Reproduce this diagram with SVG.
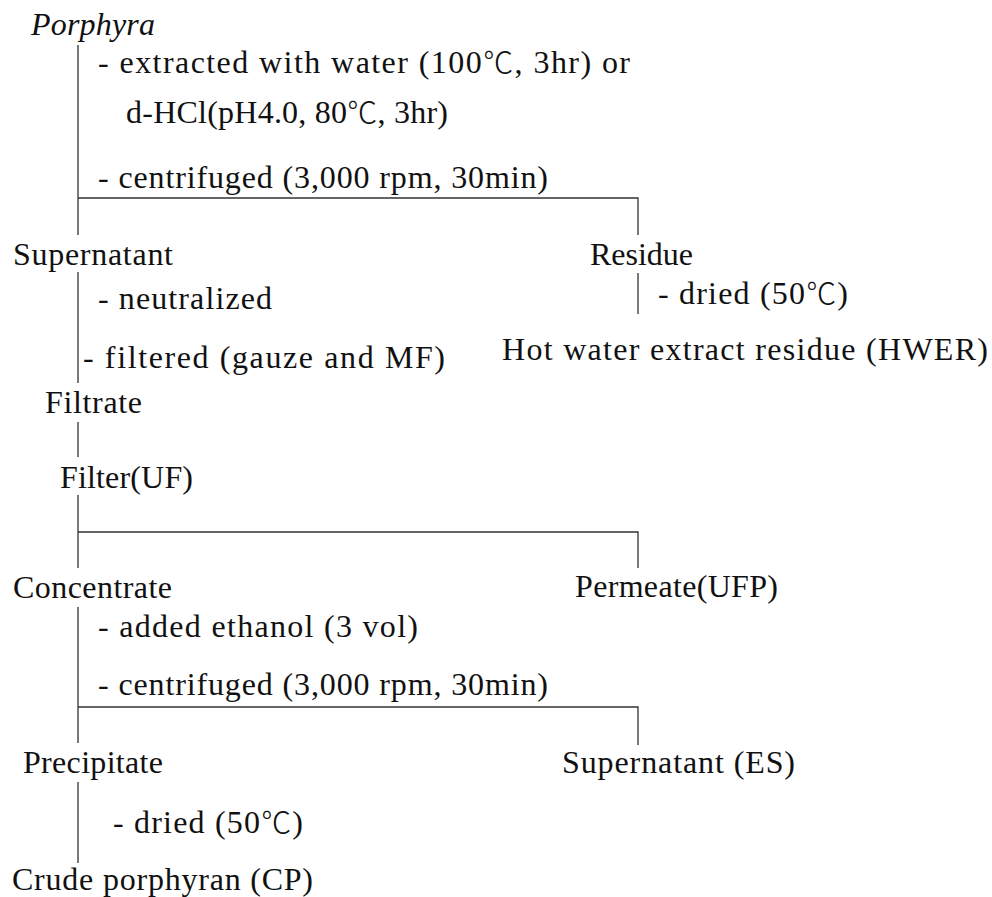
<svg xmlns="http://www.w3.org/2000/svg" width="992" height="897" viewBox="0 0 992 897">
  <style>
    .t { font-family: "Liberation Serif", "Noto Sans CJK KR", serif; font-size: 32px; fill: #111; }
    .it { font-style: italic; }
    .c { font-family: "Noto Sans CJK KR", "DejaVu Sans", sans-serif; font-size: 30px; font-weight: 300; }
    .ln { stroke: #333; stroke-width: 1.3; fill: none; }
  </style>
  <rect width="992" height="897" fill="#fff"/>

  <!-- process flow connectors -->
  <g id="connectors">
    <path class="ln" d="M78 45V235 M78 198H638V235"/>
    <path class="ln" d="M638 273V314"/>
    <path class="ln" d="M78 272V383"/>
    <path class="ln" d="M78 422V457"/>
    <path class="ln" d="M78 495V568 M78 532H638V568"/>
    <path class="ln" d="M78 607V743 M78 707H638V745"/>
    <path class="ln" d="M78 782V863"/>
  </g>

  <!-- materials / fractions -->
  <g id="porphyra"><text class="t it" x="31" y="35" textLength="124" lengthAdjust="spacing">Porphyra</text></g>
  <g id="supernatant"><text class="t" x="13" y="265" textLength="160" lengthAdjust="spacing">Supernatant</text></g>
  <g id="residue"><text class="t" x="590" y="265" textLength="103" lengthAdjust="spacing">Residue</text></g>
  <g id="hwer"><text class="t" x="502" y="360" textLength="486" lengthAdjust="spacing">Hot water extract residue (HWER)</text></g>
  <g id="filtrate"><text class="t" x="45" y="413" textLength="97" lengthAdjust="spacing">Filtrate</text></g>
  <g id="filter-uf"><text class="t" x="60" y="488" textLength="133" lengthAdjust="spacing">Filter(UF)</text></g>
  <g id="concentrate"><text class="t" x="13" y="598" textLength="159" lengthAdjust="spacing">Concentrate</text></g>
  <g id="permeate"><text class="t" x="575" y="597" textLength="203" lengthAdjust="spacing">Permeate(UFP)</text></g>
  <g id="precipitate"><text class="t" x="23" y="773" textLength="140" lengthAdjust="spacing">Precipitate</text></g>
  <g id="supernatant-es"><text class="t" x="562" y="773" textLength="233" lengthAdjust="spacing">Supernatant (ES)</text></g>
  <g id="crude-porphyran"><text class="t" x="12" y="890" textLength="301" lengthAdjust="spacing">Crude porphyran (CP)</text></g>

  <!-- process steps -->
  <g id="step-extract">
    <text class="t" x="98" y="73" textLength="532" lengthAdjust="spacing">- extracted with water (100<tspan class="c">℃</tspan>, 3hr) or</text>
    <text class="t" x="126" y="123" textLength="322" lengthAdjust="spacing">d-HCl(pH4.0, 80<tspan class="c">℃</tspan>, 3hr)</text>
  </g>
  <g id="step-centrifuge-1"><text class="t" x="98" y="188" textLength="450" lengthAdjust="spacing">- centrifuged (3,000 rpm, 30min)</text></g>
  <g id="step-neutralize"><text class="t" x="98" y="309" textLength="174" lengthAdjust="spacing">- neutralized</text></g>
  <g id="step-dry-residue"><text class="t" x="658" y="304" textLength="190" lengthAdjust="spacing">- dried (50<tspan class="c">℃</tspan>)</text></g>
  <g id="step-filter"><text class="t" x="83" y="368" textLength="362" lengthAdjust="spacing">- filtered (gauze and MF)</text></g>
  <g id="step-ethanol"><text class="t" x="98" y="637" textLength="320" lengthAdjust="spacing">- added ethanol (3 vol)</text></g>
  <g id="step-centrifuge-2"><text class="t" x="98" y="695" textLength="450" lengthAdjust="spacing">- centrifuged (3,000 rpm, 30min)</text></g>
  <g id="step-dry-precipitate"><text class="t" x="113" y="833" textLength="190" lengthAdjust="spacing">- dried (50<tspan class="c">℃</tspan>)</text></g>
</svg>
